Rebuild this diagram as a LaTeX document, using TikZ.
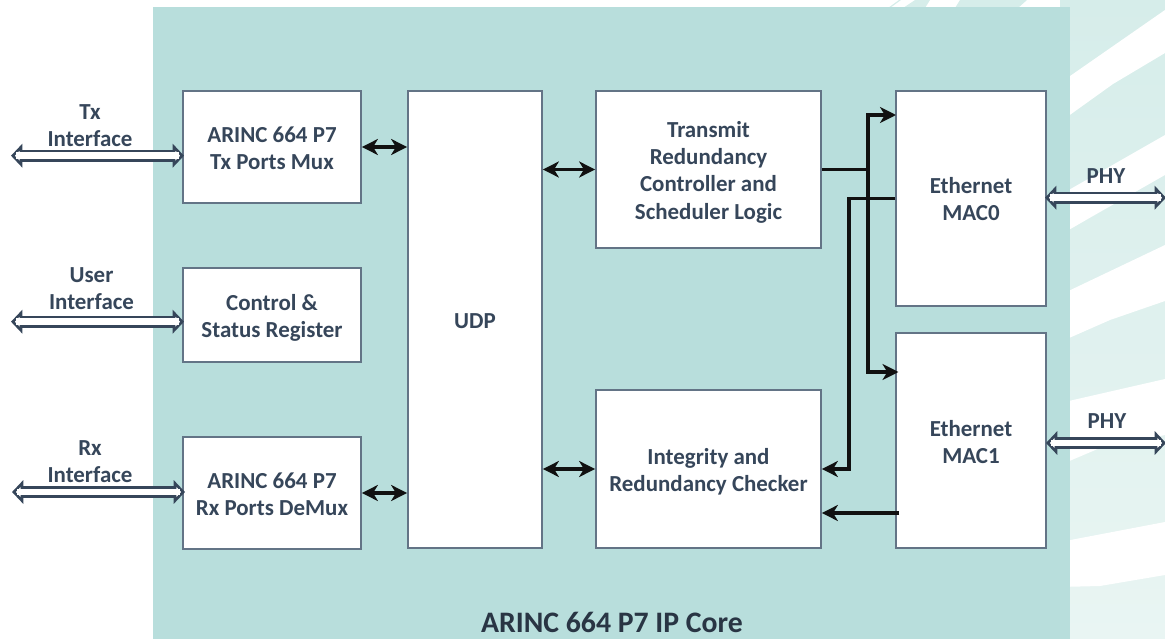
\documentclass[tikz,border=0pt]{standalone}
\usepackage{fontspec}
\setmainfont{Carlito}
\usetikzlibrary{arrows.meta}
\definecolor{panelc}{HTML}{B8DEDC}
\definecolor{stripetop}{HTML}{D6EDEA}
\definecolor{stripebot}{HTML}{E9F5F3}
\definecolor{edgec}{HTML}{637486}
\definecolor{textc}{HTML}{36465A}
\definecolor{hollowc}{HTML}{36465A}
\definecolor{arrowc}{HTML}{111111}
\tikzset{
  blk/.style={draw=edgec,line width=1.3pt,fill=white,inner sep=0pt},
  lbl/.style={inner sep=0pt,align=center,text=textc,font=\fontsize{17.2}{20.4}\selectfont\bfseries},
  bus/.style={draw=hollowc,line width=9.2pt,
    {Triangle[open,fill=white,length=8.5pt,width=17.5pt,line width=2pt]}-{Triangle[open,fill=white,length=8.5pt,width=17.5pt,line width=2pt]},
    postaction={draw=white,line width=5pt,arrows=-,shorten <=4pt,shorten >=4pt}},
  link/.style={draw=arrowc,line width=2.6pt,-{Stealth[length=12pt,width=12pt,inset=3.6pt]}},
  dlink/.style={draw=arrowc,line width=2.4pt,{Stealth[length=12pt,width=12pt,inset=3.6pt]}-{Stealth[length=12pt,width=12pt,inset=3.6pt]}},
  plainlink/.style={draw=arrowc,line width=2.8pt},
}
\begin{document}
\begin{tikzpicture}[x=0.75pt,y=-0.75pt]
\useasboundingbox (0,0) rectangle (1165,639);
% background stripes
\shade[top color=stripetop,bottom color=stripebot] (1060,0) rectangle (1165,639);
\fill[white] (1060,83) -- (1165,10) -- (1165,53) -- (1113,84) -- (1060,122) -- cycle;
\fill[white] (1060,195) -- (1165,135) -- (1165,175) -- (1093,216) -- (1060,235) -- cycle;
\fill[white] (1060,295) -- (1165,245) -- (1165,301) -- (1110,320) -- (1060,342) -- cycle;
\fill[white] (1060,403) -- (1165,379) -- (1165,435) -- (1100,448) -- (1060,465) -- cycle;
\fill[white] (1060,542) -- (1165,522) -- (1165,575) -- (1100,586) -- (1060,587) -- cycle;
\fill[stripetop] (888,8) -- (899,0) -- (901,0) -- (890,8) -- cycle;
\fill[stripetop] (903,8) -- (915,0) -- (930,0) -- (925,8) -- cycle;
\fill[stripetop] (955,8) -- (960,0) -- (1027,0) -- (1018,8) -- cycle;
\fill[stripetop] (1060,8) -- (1072,0) -- (1075,0) -- (1075,8) -- cycle;
% panel
\fill[panelc] (153,7) rectangle (1070,639);
% blocks
\node[blk,minimum width=133.5pt,minimum height=84pt,label={[lbl,yshift=-0.8pt]center:{ARINC 664 P7\\Tx Ports Mux}}] (txmux) at (272,147) {};
\node[blk,minimum width=133.5pt,minimum height=70.5pt,label={[lbl,yshift=-2.2pt]center:{Control \&\\Status Register}}] (csr) at (272,315) {};
\node[blk,minimum width=133.5pt,minimum height=84pt,label={[lbl,yshift=-0.8pt]center:{ARINC 664 P7\\Rx Ports DeMux}}] (rxmux) at (272,493) {};
\node[blk,minimum width=100.5pt,minimum height=342.75pt,label={[lbl,yshift=-1.5pt]center:{UDP}}] (udp) at (475,319.5) {};
\node[blk,minimum width=168.75pt,minimum height=117.75pt,label={[lbl,yshift=-2pt]center:{Transmit\\Redundancy\\Controller and\\Scheduler Logic}}] (trc) at (708.5,169.5) {};
\node[blk,minimum width=168.75pt,minimum height=118.5pt,label={[lbl,yshift=-2.2pt]center:{Integrity and\\Redundancy Checker}}] (irc) at (708.5,469) {};
\node[blk,minimum width=112.5pt,minimum height=161.25pt,label={[lbl,yshift=-0.4pt]center:{Ethernet\\MAC0}}] (mac0) at (971,198.5) {};
\node[blk,minimum width=112.5pt,minimum height=161.25pt,label={[lbl,yshift=-1.1pt]center:{Ethernet\\MAC1}}] (mac1) at (971,440.5) {};
% labels
\node[lbl] (ltx) at (90,125.5) {Tx\\Interface};
\node[lbl] (lusr) at (91.5,288.5) {User\\Interface};
\node[lbl] (lrx) at (90,461.7) {Rx\\Interface};
\node[lbl] (lphy0) at (1106,176) {PHY};
\node[lbl] (lphy1) at (1107,421) {PHY};
\node[inner sep=0pt,text=textc!75!black,font=\fontsize{22.3}{26}\selectfont\bfseries] (title) at (612,622) {ARINC 664 P7 IP Core};
% free ends
\coordinate (txext) at (11,155.7);
\coordinate (usrext) at (11,321.7);
\coordinate (rxext) at (12,492);
\coordinate (phy0ext) at (1166,197.7);
\coordinate (phy1ext) at (1166,443);
\coordinate (txin) at (184,155.7);
\coordinate (usrin) at (184,321.7);
\coordinate (rxin) at (185,492);
\coordinate (phy0in) at (1045,197.7);
\coordinate (phy1in) at (1046,443);
% hollow buses
\draw[bus] (txext) -- (txin);
\draw[bus] (usrext) -- (usrin);
\draw[bus] (rxext) -- (rxin);
\draw[bus] (phy0in) -- (phy0ext);
\draw[bus] (phy1in) -- (phy1ext);
% block links
\draw[dlink] (txmux.east) -- (udp.west |- txmux.east);
\draw[dlink] (rxmux.east) -- (udp.west |- rxmux.east);
\draw[dlink] (udp.east |- trc.west) -- (trc.west);
\draw[dlink] (udp.east |- irc.west) -- (irc.west);
% transmit fan-out
\coordinate (fan) at (868,169.5);
\coordinate (mac0in) at (896,115);
\coordinate (mac1in) at (898.5,372);
\draw[plainlink] (trc.east) -- (fan);
\draw[link] (fan) -- (fan |- mac0in) -- (mac0in);
\draw[link] (fan) -- (fan |- mac1in) -- (mac1in);
% receive paths
\coordinate (rxbus) at (849,198);
\draw[link] (mac0.west) -- (rxbus |- mac0.west) -- (rxbus |- irc.east) -- (irc.east);
\coordinate (mac1out) at (899,513);
\draw[link] (mac1out) -- (irc.east |- mac1out);
\end{tikzpicture}
\end{document}
